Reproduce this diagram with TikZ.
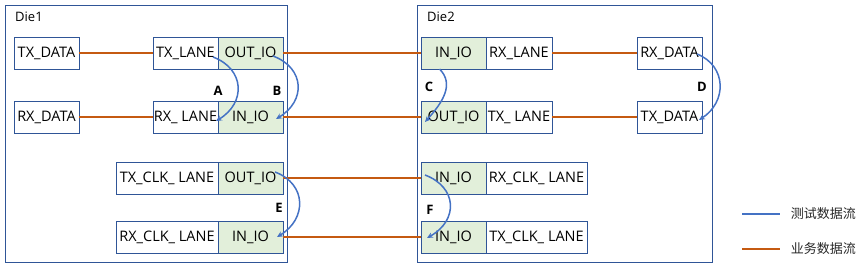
\documentclass[tikz,border=0pt]{standalone}
\usepackage{fontspec}
\setmainfont{Open Sans}
\newfontfamily\cjkfont{Noto Sans CJK SC}
\usetikzlibrary{arrows.meta,positioning}
\definecolor{diecol}{HTML}{2F5597}
\definecolor{iofill}{HTML}{E2EFDA}
\definecolor{bizline}{HTML}{C55A11}
\definecolor{testline}{HTML}{4472C4}

\begin{document}
\begin{tikzpicture}[x=1pt, y=-1pt,
    diebox/.style={draw=diecol, line width=0.9pt, anchor=north west, inner sep=0pt, outer sep=0pt},
    dielbl/.style={anchor=west, inner sep=0pt, font=\fontsize{13}{15}\selectfont},
    blk/.style={draw=diecol, line width=0.9pt, fill=white, minimum width=65pt, minimum height=32pt,
                inner sep=0pt, outer sep=0pt, anchor=north west, font=\fontsize{14.5}{16}\selectfont},
    io/.style={blk, fill=iofill},
    biz/.style={draw=bizline, line width=1.5pt},
    test/.style={->, >={Stealth[length=6pt,width=5.5pt]}, draw=testline, line width=1.5pt},
    tag/.style={font=\fontsize{13}{15}\selectfont\bfseries, inner sep=0pt},
    lgtext/.style={right=10pt, inner sep=0pt, font=\cjkfont\fontsize{13}{15}\selectfont, text=black!85}
]
\useasboundingbox (0,0) rectangle (863,267);

% two dies
\node[diebox, minimum width=282pt, minimum height=257pt] (die1) at (5,5) {};
\node[diebox, minimum width=295pt, minimum height=257pt] (die2) at (417,5) {};
\node[dielbl] at (15,17) {Die1};
\node[dielbl] at (427,17) {Die2};

% Die1 blocks
\node[blk] (txdata1) at (14,37) {TX\_DATA};
\node[blk] (txlane1) at (153,37) {TX\_LANE};
\node[io, right=0pt of txlane1] (outio1) {OUT\_IO};
\node[blk] (rxdata1) at (14,101) {RX\_DATA};
\node[blk] (rxlane1) at (153,101) {RX\_ LANE};
\node[io, right=0pt of rxlane1] (inio1) {IN\_IO};
\node[blk, minimum width=102pt] (txclk1) at (116,162) {TX\_CLK\_ LANE};
\node[io, right=0pt of txclk1] (outio2) {OUT\_IO};
\node[blk, minimum width=102pt] (rxclk1) at (116,221) {RX\_CLK\_ LANE};
\node[io, right=0pt of rxclk1] (inio2) {IN\_IO};

% Die2 blocks
\node[io] (inio3) at (421,37) {IN\_IO};
\node[blk, minimum width=66pt, right=0pt of inio3] (rxlane2) {RX\_LANE};
\node[blk] (rxdata2) at (637,37) {RX\_DATA};
\node[io] (outio3) at (421,101) {OUT\_IO};
\node[blk, minimum width=66pt, right=0pt of outio3] (txlane2) {TX\_ LANE};
\node[blk] (txdata2) at (637,101) {TX\_DATA};
\node[io] (inio4) at (421,162) {IN\_IO};
\node[blk, minimum width=101pt, right=0pt of inio4] (rxclk2) {RX\_CLK\_ LANE};
\node[io] (inio5) at (421,221) {IN\_IO};
\node[blk, minimum width=101pt, right=0pt of inio5] (txclk2) {TX\_CLK\_ LANE};

% business data flow (orange)
\draw[biz] (txdata1.east) -- (txlane1.west);
\draw[biz] (outio1.east) -- (inio3.west);
\draw[biz] (rxlane2.east) -- (rxdata2.west);
\draw[biz] (rxdata1.east) -- (rxlane1.west);
\draw[biz] (inio1.east) -- (outio3.west);
\draw[biz] (txlane2.east) -- (txdata2.west);
\draw[biz] (outio2.east) -- (inio4.west);
\draw[biz] (inio2.east) -- (inio5.west);

% test data flow (blue loopbacks)
\draw[test] ([shift={(-5,4)}]txlane1.east) .. controls +(32,12) and +(30,-18) .. ([shift={(-2,4)}]rxlane1.east);   % A
\draw[test] ([shift={(-10,3)}]outio1.east) .. controls +(32,12) and +(30,-18) .. ([shift={(-7,2)}]inio1.east);     % B
\draw[test] ([xshift=-14pt]inio3.south) .. controls +(15,15) and +(18,-20) .. ([shift={(4,5)}]outio3.west);        % C
\draw[test] ([shift={(-5,1)}]rxdata2.east) .. controls +(30,12) and +(28,-18) .. ([shift={(-3,3)}]txdata2.east);    % D
\draw[test] ([shift={(-8,-6)}]outio2.east) .. controls +(32,12) and +(30,-18) .. ([shift={(-6,0)}]inio2.east);     % E
\draw[test] ([shift={(4,-3)}]inio4.west) .. controls +(32,12) and +(32,-18) .. ([shift={(6,1)}]inio5.west);        % F

\node[tag] at (218,91) {A};
\node[tag] at (277,91) {B};
\node[tag] at (429,87) {C};
\node[tag] at (702,87) {D};
\node[tag] at (279,208) {E};
\node[tag] at (430,210) {F};

% legend
\coordinate (lgtest) at (742,214);
\coordinate (lgbiz) at (742,249);
\draw[draw=testline, line width=1.5pt] (lgtest) -- ++(38,0) node[lgtext] {测试数据流};
\draw[biz] (lgbiz) -- ++(38,0) node[lgtext] {业务数据流};

\end{tikzpicture}
\end{document}
